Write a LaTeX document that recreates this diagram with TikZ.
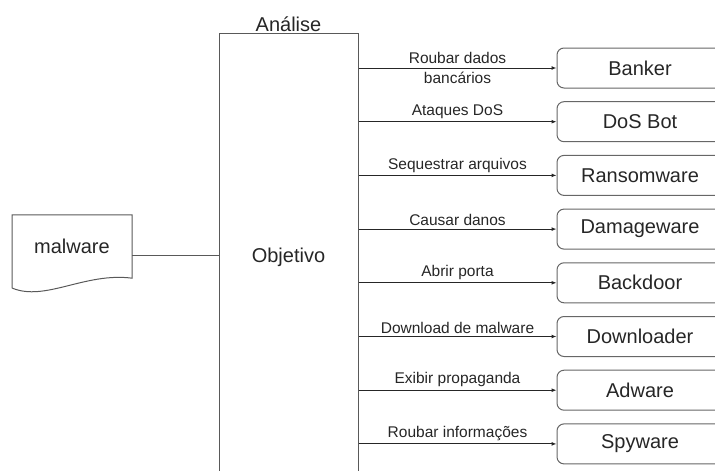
\documentclass[tikz,border=0pt]{standalone}
\usepackage{fontspec}
\setmainfont{Liberation Sans}
\usetikzlibrary{arrows.meta}

\begin{document}
\begin{tikzpicture}[x=1pt, y=-1pt,
	every node/.style={font=\fontsize{20}{24}\selectfont, text=black!85},
	typebox/.style={draw=black!60, line width=1pt, rounded corners=7pt, minimum width=166pt, minimum height=40pt, inner sep=0pt},
	goalbox/.style={draw=black!65, line width=1pt, minimum width=139pt, minimum height=448pt, inner sep=0pt},
	edge/.style={draw=black!85, line width=1pt, -{Latex[length=5pt,width=4pt]}},
	lbl/.style={font=\fontsize{15.5}{19.5}\selectfont, align=center, inner sep=2.5pt}]
	\useasboundingbox (0,0) rectangle (715,471);
	\clip (0,0) rectangle (715,471);
	% malware document
	\node[minimum width=120pt, minimum height=63pt, inner sep=0pt] (mal) at (72,246.5) {malware};
	\draw[black!65, line width=1pt] (12,288) |- (mal.north east) -- (mal.south east)
		.. controls (85,272) and (45,302) .. (12,288);
	% analysis block
	\node[goalbox] (obj) at (288.5,257) {Objetivo};
	\node[anchor=south, inner sep=1pt] (ana) at (obj.north) {Análise};
	\coordinate (malE) at (132,255);
	\draw[black!65, line width=1pt] (malE) -- (obj.west |- malE);
	% malware types
	\node[typebox] (ban) at (640,68) {Banker};
	\node[typebox] (dos) at (640,121.7) {DoS Bot};
	\node[typebox] (ran) at (640,175.4) {Ransomware};
	\node[typebox] (dam) at (640,229.1) {Damageware};
	\node[typebox] (bac) at (640,282.8) {Backdoor};
	\node[typebox] (dow) at (640,336.5) {Downloader};
	\node[typebox] (adw) at (640,390.2) {Adware};
	\node[typebox] (spy) at (640,443.9) {Spyware};
	% goals
	\draw[edge] (obj.east |- ban.west) -- node[lbl] {Roubar dados\\bancários} (ban.west);
	\draw[edge] (obj.east |- dos.west) -- node[lbl, above] {Ataques DoS} (dos.west);
	\draw[edge] (obj.east |- ran.west) -- node[lbl, above] {Sequestrar arquivos} (ran.west);
	\draw[edge] (obj.east |- dam.west) -- node[lbl, above] {Causar danos} (dam.west);
	\draw[edge] (obj.east |- bac.west) -- node[lbl, above] {Abrir porta} (bac.west);
	\draw[edge] (obj.east |- dow.west) -- node[lbl, above] {Download de malware} (dow.west);
	\draw[edge] (obj.east |- adw.west) -- node[lbl, above] {Exibir propaganda} (adw.west);
	\draw[edge] (obj.east |- spy.west) -- node[lbl, above] {Roubar informações} (spy.west);
\end{tikzpicture}
\end{document}
